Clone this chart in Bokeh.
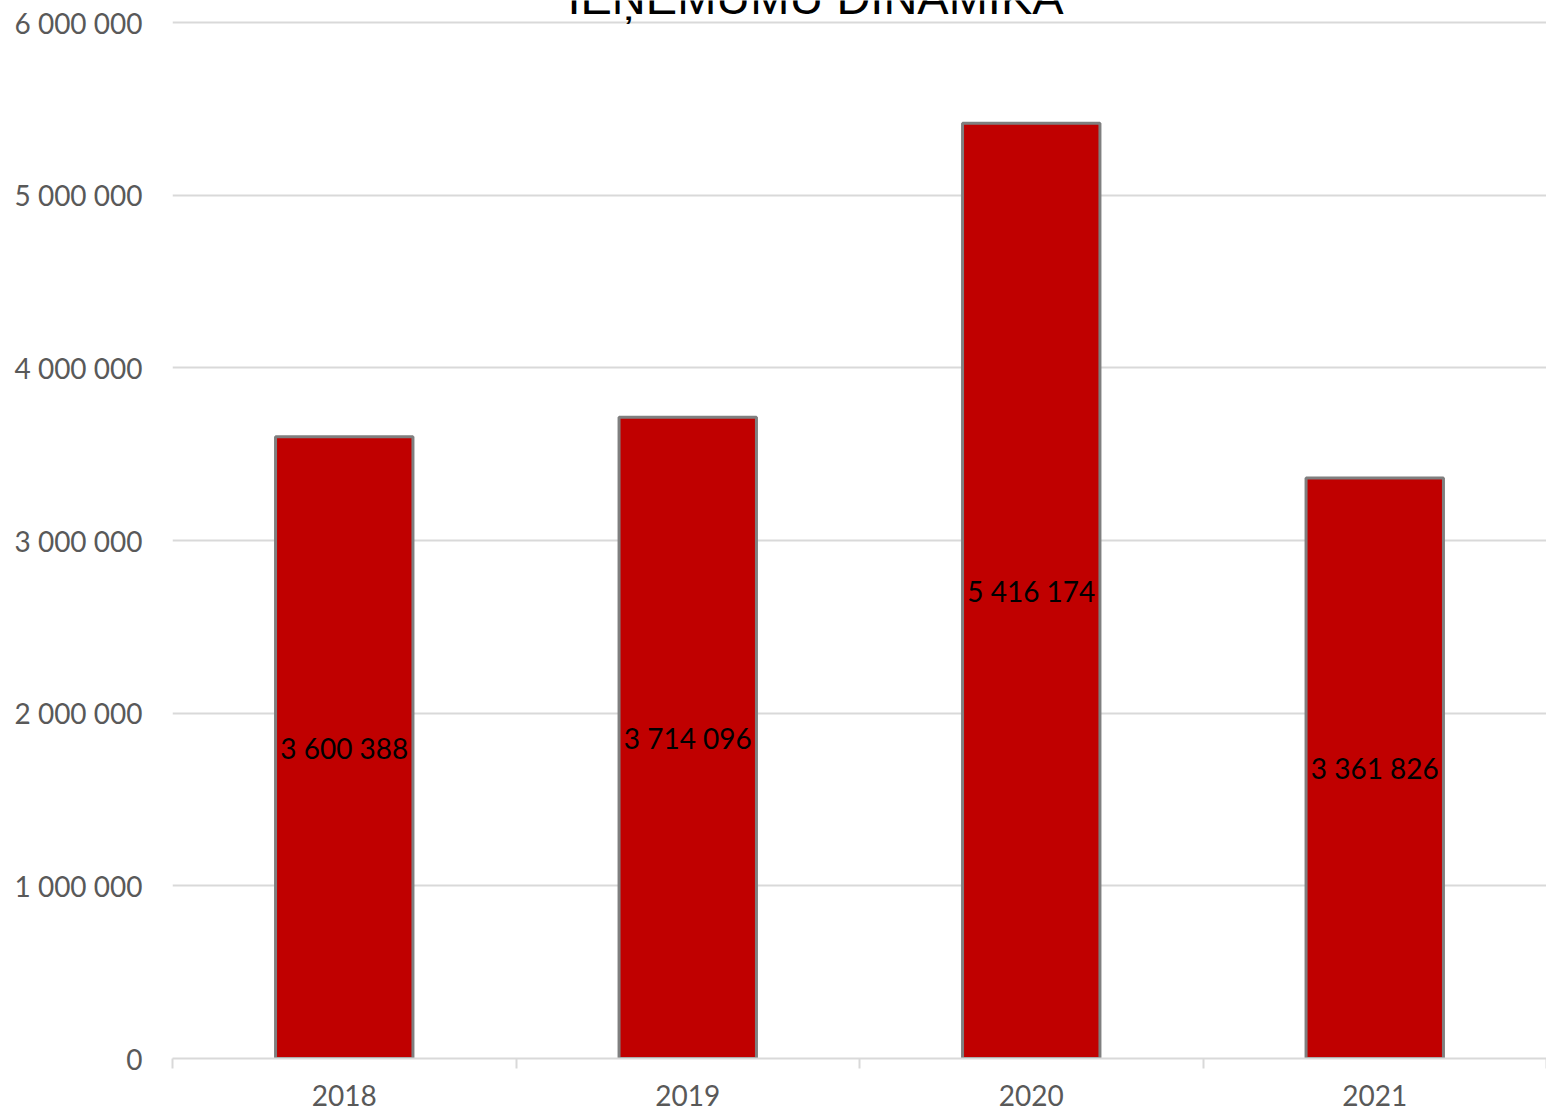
from bokeh.plotting import figure
from bokeh.models import Range1d, FixedTicker, Label, ColumnDataSource
from bokeh.core.properties import value
from bokeh.embed import file_html
from bokeh.resources import INLINE

title_text = "IEŅĒMUMU DINAMIKA"
years = ["2018", "2019", "2020", "2021"]
revenue = [3600388, 3714096, 5416174, 3361826]
y_ticks = [0, 1000000, 2000000, 3000000, 4000000, 5000000, 6000000]


def fmt(v):
    return f"{v:,}".replace(",", " ")


xs = [i + 0.5 for i in range(len(years))]
src = ColumnDataSource(dict(
    x=xs,
    top=revenue,
    mid=[v / 2 for v in revenue],
    label=[fmt(v) for v in revenue],
))

FONT = "Lato"

W, H = 1546, 1110
BOTTOM = 52
TOP_PAD = 22  # pixels between canvas top and the highest gridline
frame_h = H - BOTTOM
px = y_ticks[-1] / (frame_h - TOP_PAD)       # data units per pixel
y_end = y_ticks[-1] + TOP_PAD * px

p = figure(width=W, height=H, output_backend="svg", toolbar_location=None,
           x_range=Range1d(0, len(years)), y_range=Range1d(0, y_end),
           min_border_left=172, min_border_right=0, min_border_top=0, min_border_bottom=BOTTOM)
p.outline_line_color = None
p.background_fill_color = "white"
p.border_fill_color = "white"

p.vbar(x="x", top="top", width=0.4, source=src,
       fill_color="#c00000", line_color="#7f7f7f", line_width=3)
p.text(x="x", y="mid", text="label", source=src, text_align="center",
       text_baseline="middle", text_font=value(FONT), text_font_size="28px",
       text_color="black")

# y axis
p.yaxis.ticker = FixedTicker(ticks=y_ticks)
p.yaxis.major_label_overrides = {t: fmt(t) for t in y_ticks}
p.yaxis.axis_line_color = None
p.yaxis.major_tick_line_color = None
p.yaxis.minor_tick_line_color = None
p.yaxis.major_tick_out = 0
p.yaxis.major_label_standoff = 30
p.yaxis.major_label_text_font = FONT
p.yaxis.major_label_text_font_size = "28px"
p.yaxis.major_label_text_color = "#595959"

# x axis
p.xaxis.ticker = FixedTicker(ticks=xs, minor_ticks=list(range(len(years) + 1)))
p.xaxis.major_label_overrides = {x: y for x, y in zip(xs, years)}
p.xaxis.axis_line_color = "#d9d9d9"
p.xaxis.axis_line_width = 2
p.xaxis.major_tick_line_color = None
p.xaxis.major_tick_out = 0
p.xaxis.major_tick_in = 0
p.xaxis.minor_tick_line_color = "#d9d9d9"
p.xaxis.minor_tick_line_width = 2
p.xaxis.minor_tick_out = 10
p.xaxis.minor_tick_in = 0
p.xaxis.major_label_standoff = 16
p.xaxis.major_label_text_font = FONT
p.xaxis.major_label_text_font_size = "28px"
p.xaxis.major_label_text_color = "#595959"

p.xgrid.grid_line_color = None
p.ygrid.ticker = FixedTicker(ticks=y_ticks)
p.ygrid.grid_line_color = "#d9d9d9"
p.ygrid.grid_line_width = 2

title = Label(x=1.872, y=y_ticks[-1] + 25 * px, text=title_text, text_align="center",
              text_baseline="alphabetic", text_font="Liberation Sans",
              text_font_size="47px", text_color="black")
p.add_layout(title)

open("out.html", "w").write(file_html(p, INLINE))
